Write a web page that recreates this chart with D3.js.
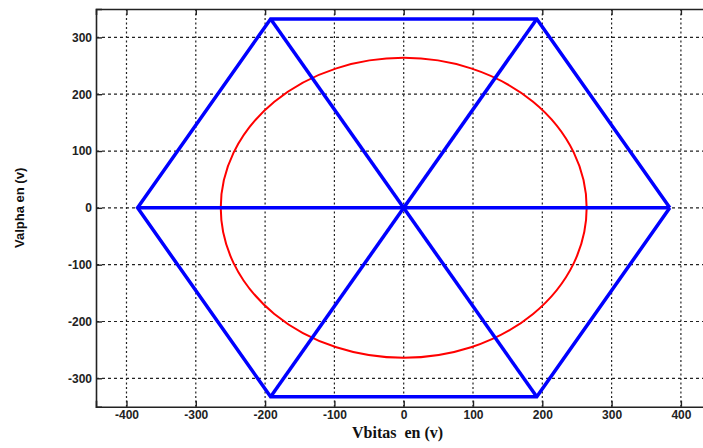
<!DOCTYPE html>
<html>
<head>
<meta charset="utf-8">
<script src="https://cdn.jsdelivr.net/npm/d3@7"></script>
<style>
  html, body { margin: 0; padding: 0; background: #fff; }
  svg { display: block; }
</style>
</head>
<body>
<script>
// Space-vector diagram: hexagon of inverter vectors and the circular locus
const hexVertices = [
  [384, 0], [192, 332.6], [-192, 332.6], [-384, 0], [-192, -332.6], [192, -332.6]
];
// Lines through the origin joining opposite vertices
const diagonals = [
  [[-384, 0], [384, 0]],
  [[-192, 332.6], [192, -332.6]],
  [[192, 332.6], [-192, -332.6]]
];
const circleRadius = [264];
const xTicks = [-400, -300, -200, -100, 0, 100, 200, 300, 400];
const yTicks = [-300, -200, -100, 0, 100, 200, 300];
const xDomain = [-444, 444];
const yDomain = [-350, 350];

const W = 703, H = 448;
const svg = d3.select("body").append("svg").attr("width", W).attr("height", H);

const x = d3.scaleLinear().domain(xDomain).range([96, 711.4]);
const y = d3.scaleLinear().domain(yDomain).range([406.7, 9]);

const g = svg.append("g");

// grid
g.selectAll(".vgrid").data(xTicks).join("line")
  .attr("x1", d => x(d)).attr("x2", d => x(d))
  .attr("y1", y(yDomain[1])).attr("y2", y(yDomain[0]))
  .attr("stroke", "#222").attr("stroke-width", 1.2).attr("stroke-dasharray", "2,2.5");
g.selectAll(".hgrid").data(yTicks).join("line")
  .attr("y1", d => y(d)).attr("y2", d => y(d))
  .attr("x1", x(xDomain[0])).attr("x2", x(xDomain[1]))
  .attr("stroke", "#222").attr("stroke-width", 1.2).attr("stroke-dasharray", "3,3");

// circular locus
g.selectAll(".locus").data(circleRadius).join("ellipse")
  .attr("cx", x(0)).attr("cy", y(0))
  .attr("rx", d => x(d) - x(0)).attr("ry", d => y(0) - y(d))
  .attr("fill", "none").attr("stroke", "#ff0000").attr("stroke-width", 2);

// hexagon and diagonals
const line = d3.line().x(d => x(d[0])).y(d => y(d[1]));
g.append("path").datum(hexVertices.concat([hexVertices[0]]))
  .attr("d", line).attr("fill", "none")
  .attr("stroke", "#0000ff").attr("stroke-width", 3.5).attr("stroke-linejoin", "miter");
g.selectAll(".diag").data(diagonals).join("path")
  .attr("d", line).attr("fill", "none")
  .attr("stroke", "#0000ff").attr("stroke-width", 3.5);

// axes frame with inward ticks; labels use a plain hyphen for negatives
const fmt = d => String(d);
const xAxisB = d3.axisBottom(x).tickValues(xTicks).tickSize(-6).tickPadding(4).tickFormat(fmt);
const xAxisT = d3.axisTop(x).tickValues(xTicks).tickSize(-6).tickFormat("");
const yAxisL = d3.axisLeft(y).tickValues(yTicks).tickSize(-6).tickPadding(4).tickFormat(fmt);
const yAxisR = d3.axisRight(y).tickValues(yTicks).tickSize(-6).tickFormat("");

function style(sel) {
  sel.selectAll("path.domain").attr("stroke", "#222").attr("stroke-width", 1.6);
  sel.selectAll(".tick line").attr("stroke", "#222").attr("stroke-width", 1.4);
  sel.selectAll("text").attr("font-family", "Liberation Sans, Arial, sans-serif")
    .attr("font-weight", "bold").attr("font-size", 12).attr("fill", "#222");
}
svg.append("g").attr("transform", `translate(0,${y(yDomain[0])})`).call(xAxisB).call(style);
svg.append("g").attr("transform", `translate(0,${y(yDomain[1])})`).call(xAxisT).call(style);
svg.append("g").attr("transform", `translate(${x(xDomain[0])},0)`).call(yAxisL).call(style);
svg.append("g").attr("transform", `translate(${x(xDomain[1])},0)`).call(yAxisR).call(style);

// axis titles
svg.append("text").attr("x", 352).attr("y", 438)
  .attr("font-family", "Liberation Serif, Times New Roman, serif")
  .attr("font-weight", "bold").attr("font-size", 16).attr("fill", "#111")
  .attr("xml:space", "preserve").style("white-space", "pre")
  .text("Vbitas  en (v)");
svg.append("text")
  .attr("transform", `translate(24,${y(0)}) rotate(-90)`)
  .attr("text-anchor", "middle")
  .attr("font-family", "Liberation Sans, Arial, sans-serif")
  .attr("font-weight", "bold").attr("font-size", 13).attr("fill", "#111")
  .text("Valpha en (v)");
</script>
</body>
</html>
